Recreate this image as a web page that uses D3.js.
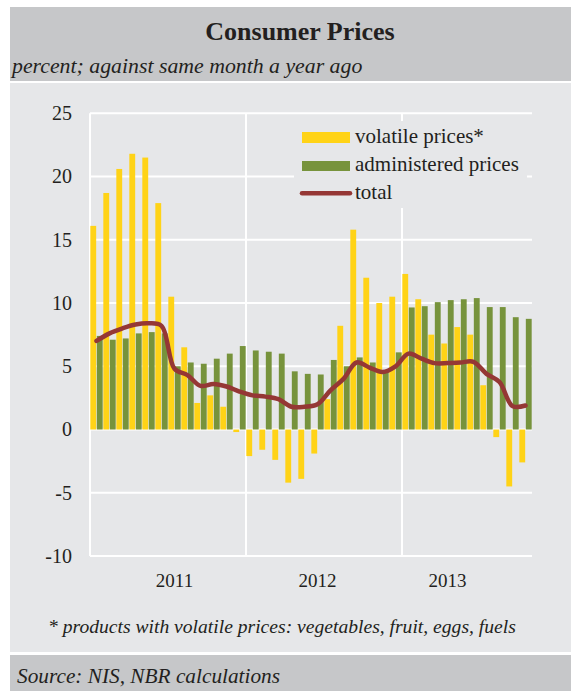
<!DOCTYPE html>
<html>
<head>
<meta charset="utf-8">
<script src="https://cdn.jsdelivr.net/npm/d3@7/dist/d3.min.js"></script>
<style>
  html, body { margin: 0; padding: 0; background: #fff; }
  svg { display: block; font-family: "Liberation Serif", "Times New Roman", serif; }
</style>
</head>
<body>
<svg width="571" height="691"></svg>
<script>
// months Jan 2011 .. Oct 2013
var months = ["Jan 2011","Feb 2011","Mar 2011","Apr 2011","May 2011","Jun 2011","Jul 2011","Aug 2011","Sep 2011","Oct 2011","Nov 2011","Dec 2011",
              "Jan 2012","Feb 2012","Mar 2012","Apr 2012","May 2012","Jun 2012","Jul 2012","Aug 2012","Sep 2012","Oct 2012","Nov 2012","Dec 2012",
              "Jan 2013","Feb 2013","Mar 2013","Apr 2013","May 2013","Jun 2013","Jul 2013","Aug 2013","Sep 2013","Oct 2013"];

var volatilePrices = [16.1, 18.7, 20.6, 21.8, 21.5, 17.9, 10.5, 6.5, 2.1, 2.7, 1.8, -0.2,
                      -2.1, -1.6, -2.4, -4.2, -3.9, -1.9, 2.4, 8.2, 15.8, 12.0, 10.0, 10.5,
                      12.3, 10.3, 7.5, 6.8, 8.1, 7.5, 3.5, -0.6, -4.5, -2.6];

var administeredPrices = [7.4, 7.1, 7.2, 7.6, 7.7, 7.6, 5.0, 5.3, 5.2, 5.6, 6.0, 6.6,
                          6.25, 6.15, 6.0, 4.6, 4.4, 4.35, 5.5, 5.0, 5.7, 5.3, 4.6, 6.1,
                          9.65, 9.75, 10.07, 10.23, 10.3, 10.39, 9.68, 9.68, 8.88, 8.75];

var total = [7.0, 7.6, 8.0, 8.3, 8.4, 8.2, 4.8, 4.3, 3.45, 3.6, 3.4, 3.0,
             2.7, 2.6, 2.4, 1.8, 1.8, 2.0, 3.1, 4.0, 5.3, 4.9, 4.55, 5.0,
             6.0, 5.6, 5.25, 5.25, 5.3, 5.35, 4.4, 3.75, 1.85, 1.9];

var yTicks = [-10, -5, 0, 5, 10, 15, 20, 25];
var yearLabels = ["2011", "2012", "2013"];
var yearLabelMonths = ["Jul 2011", "Jun 2012", "Apr 2013"];
var yearStarts = ["Jan 2011", "Jan 2012", "Jan 2013"];

var seriesKeys = ["volatile", "administered"];
var seriesNames = ["volatile prices*", "administered prices", "total"];

function main(){
    var svg = d3.select("svg");
    var colors = {volatile: "#ffd317", administered: "#77933c", total: "#953735"};

    // panels
    svg.append("rect").attr("x", 10).attr("y", 7).attr("width", 561).attr("height", 74).attr("fill", "#c6c7c9");
    svg.append("rect").attr("x", 10).attr("y", 83).attr("width", 561).attr("height", 569).attr("fill", "#e6e7e9");
    svg.append("rect").attr("x", 10).attr("y", 655).attr("width", 561).attr("height", 36).attr("fill", "#c6c7c9");

    svg.append("text")
        .attr("x", 300).attr("y", 40)
        .attr("text-anchor", "middle")
        .style("font-size", "26px").style("font-weight", "bold").style("fill", "#231f20")
        .text("Consumer Prices");

    svg.append("text")
        .attr("x", 12).attr("y", 73)
        .style("font-size", "21.8px").style("font-style", "italic").style("fill", "#231f20")
        .text("percent; against same month a year ago");

    var left = 90, right = 532, top = 113.3, bottom = 556;

    var x = d3.scaleBand()
        .domain(months)
        .range([left, right])
        .paddingInner(0)
        .paddingOuter(0);

    var xSub = d3.scaleBand()
        .domain(seriesKeys)
        .range([0, x.bandwidth()])
        .paddingInner(0.1)
        .paddingOuter(0.05);

    var y = d3.scaleLinear()
        .domain([-10, 25])
        .range([bottom, top]);

    var g = svg.append("g");

    // grid
    g.selectAll(".hgrid")
        .data(yTicks)
        .enter().append("line")
        .attr("x1", left).attr("x2", right)
        .attr("y1", function(d){ return y(d); })
        .attr("y2", function(d){ return y(d); })
        .attr("stroke", "#fff").attr("stroke-width", 2);

    g.selectAll(".vgrid")
        .data(yearStarts)
        .enter().append("line")
        .attr("x1", function(d){ return x(d); })
        .attr("x2", function(d){ return x(d); })
        .attr("y1", top).attr("y2", bottom)
        .attr("stroke", "#fff").attr("stroke-width", 2);

    // y axis labels
    g.append("g")
        .attr("transform", "translate(" + left + ",0)")
        .call(d3.axisLeft(y).tickValues(yTicks).tickSize(0).tickPadding(18)
            .tickFormat(function(d){ return String(d); }))
        .call(function(a){ a.select(".domain").remove(); })
        .selectAll("text")
        .style("font-family", "Liberation Serif").style("font-size", "20px").style("fill", "#231f20");

    // x axis year labels
    g.selectAll(".year")
        .data(yearLabels)
        .enter().append("text")
        .attr("x", function(d, i){ return x(yearLabelMonths[i]) + x.bandwidth() / 2; })
        .attr("y", 587)
        .attr("text-anchor", "middle")
        .style("font-size", "19px").style("fill", "#231f20")
        .text(function(d){ return d; });

    // bars
    var rows = months.map(function(m, i){
        return {month: m, volatile: volatilePrices[i], administered: administeredPrices[i]};
    });

    var groups = g.selectAll(".month")
        .data(rows)
        .enter().append("g")
        .attr("transform", function(d){ return "translate(" + x(d.month) + ",0)"; });

    groups.selectAll("rect")
        .data(function(d){ return seriesKeys.map(function(k){ return {key: k, value: d[k]}; }); })
        .enter().append("rect")
        .attr("x", function(d){ return xSub(d.key); })
        .attr("width", xSub.bandwidth())
        .attr("y", function(d){ return y(Math.max(0, d.value)); })
        .attr("height", function(d){ return Math.abs(y(d.value) - y(0)); })
        .attr("fill", function(d){ return colors[d.key]; });

    // total line
    var line = d3.line()
        .x(function(d, i){ return x(months[i]) + x.bandwidth() / 2; })
        .y(function(d){ return y(d); })
        .curve(d3.curveCatmullRom.alpha(0.5));

    g.append("path")
        .datum(total)
        .attr("d", line)
        .attr("fill", "none")
        .attr("stroke", colors.total)
        .attr("stroke-width", 4.5)
        .attr("stroke-linecap", "round")
        .attr("stroke-linejoin", "round");

    // legend
    var leg = svg.append("g");
    leg.append("rect").attr("x", 294).attr("y", 121).attr("width", 233).attr("height", 87).attr("fill", "#e6e7e9");
    leg.append("rect").attr("x", 302).attr("y", 132).attr("width", 48).attr("height", 11).attr("fill", colors.volatile);
    leg.append("rect").attr("x", 302).attr("y", 161).attr("width", 48).attr("height", 10).attr("fill", colors.administered);
    leg.append("line").attr("x1", 302).attr("x2", 350).attr("y1", 193.3).attr("y2", 193.3)
        .attr("stroke", colors.total).attr("stroke-width", 4.5).attr("stroke-linecap", "round");

    leg.selectAll(".ltext")
        .data(seriesNames)
        .enter().append("text")
        .attr("x", 355)
        .attr("y", function(d, i){ return [143, 171, 198.5][i]; })
        .style("font-size", "21px").style("fill", "#231f20")
        .text(function(d){ return d; });

    svg.append("text")
        .attr("x", 48).attr("y", 633)
        .style("font-size", "19.6px").style("font-style", "italic").style("fill", "#231f20")
        .text("* products with volatile prices: vegetables, fruit, eggs, fuels");

    svg.append("text")
        .attr("x", 17).attr("y", 683)
        .style("font-size", "21.3px").style("font-style", "italic").style("fill", "#231f20")
        .text("Source: NIS, NBR calculations");
}

main();
</script>
</body>
</html>
